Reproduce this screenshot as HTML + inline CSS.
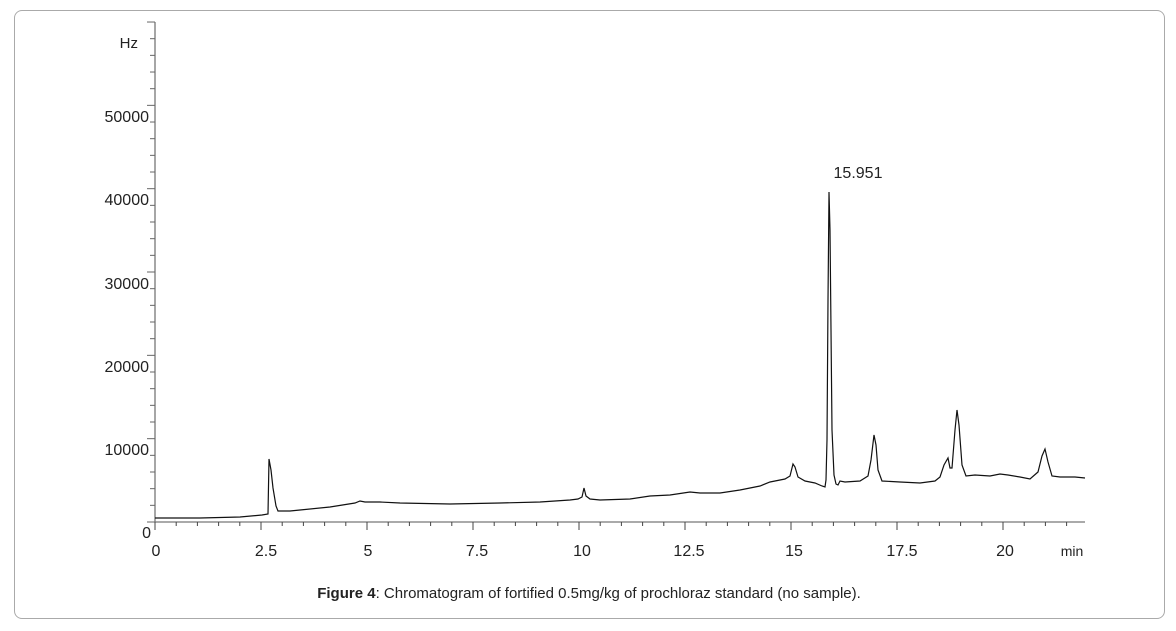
<!DOCTYPE html>
<html><head><meta charset="utf-8"><style>
body{margin:0;background:#fff;width:1176px;height:631px;overflow:hidden;font-family:"Liberation Sans",sans-serif}
.box{position:absolute;left:14px;top:10px;width:1149px;height:607px;border:1px solid #aaa;border-radius:8px}
</style></head><body>
<div class="box"></div>
<svg width="1176" height="631" style="position:absolute;left:0;top:0" font-family="Liberation Sans, sans-serif">
<g stroke="#777" stroke-width="1.3" fill="none">
<line x1="155" y1="22" x2="155" y2="522"/>
<line x1="155" y1="522" x2="1085" y2="522"/>
</g>
<g id="yt" stroke="#666" stroke-width="1"></g>
<g id="xt" stroke="#444" stroke-width="1"></g>
<g font-size="16" fill="#222" text-anchor="end">
<text x="138" y="48" text-anchor="end" font-size="15">Hz</text>
<text x="149" y="122">50000</text>
<text x="149" y="205">40000</text>
<text x="149" y="289">30000</text>
<text x="149" y="372">20000</text>
<text x="149" y="455">10000</text>
<text x="151" y="538">0</text>
</g>
<g font-size="16" fill="#222" text-anchor="middle">
<text x="156" y="556">0</text>
<text x="266" y="556">2.5</text>
<text x="368" y="556">5</text>
<text x="477" y="556">7.5</text>
<text x="582" y="556">10</text>
<text x="689" y="556">12.5</text>
<text x="794" y="556">15</text>
<text x="902" y="556">17.5</text>
<text x="1005" y="556">20</text>
<text x="1072" y="556" font-size="14">min</text>
<text x="858" y="178">15.951</text>
</g>
<polyline fill="none" stroke="#111" stroke-width="1.2" points="155,518 200,518 240,517 262,515 268,514 269,459 271,470 273,488 276,506 278,511 290,511 300,510 330,507 355,503 360,501 365,502 380,502 400,503 450,504 500,503 540,502 570,500 578,499 582,497 584,488 586,496 590,499 600,500 630,499 650,496 670,495 690,492 700,493 720,493 740,490 760,486 770,482 785,479 790,476 793,464 795,467 798,477 805,481 815,483 822,486 825,487 826,480 827,440 828,300 829,192 830,230 831,330 832,430 834,475 836,484 838,485 840,481 845,482 860,481 868,476 871,460 874,435 876,445 878,470 882,481 900,482 920,483 935,481 940,477 944,465 948,458 950,468 952,468 955,430 957,410 959,425 962,465 966,476 975,475 990,476 1000,474 1008,475 1020,477 1030,479 1038,472 1042,456 1045,449 1048,462 1052,476 1060,477 1075,477 1085,478"/>
<text x="589" y="598" font-size="15" text-anchor="middle" fill="#222"><tspan font-weight="bold">Figure 4</tspan>: Chromatogram of fortified 0.5mg/kg of prochloraz standard (no sample).</text>
</svg>
<script>
var ns="http://www.w3.org/2000/svg";
var yt=document.getElementById('yt');
for(var i=0;i<=30;i++){var y=522-i*83.33/5;if(y<22)break;var l=document.createElementNS(ns,'line');var L=(i%5==0)?8:5;l.setAttribute('x1',155-L);l.setAttribute('x2',155);l.setAttribute('y1',y);l.setAttribute('y2',y);yt.appendChild(l);}
var xt=document.getElementById('xt');
for(var i=0;i<=43;i++){var x=155+i*21.2;if(x>1086)break;var l=document.createElementNS(ns,'line');var L=(i%5==0)?8:4;l.setAttribute('x1',x);l.setAttribute('x2',x);l.setAttribute('y1',522);l.setAttribute('y2',522+L);xt.appendChild(l);}
</script>
</body></html>
